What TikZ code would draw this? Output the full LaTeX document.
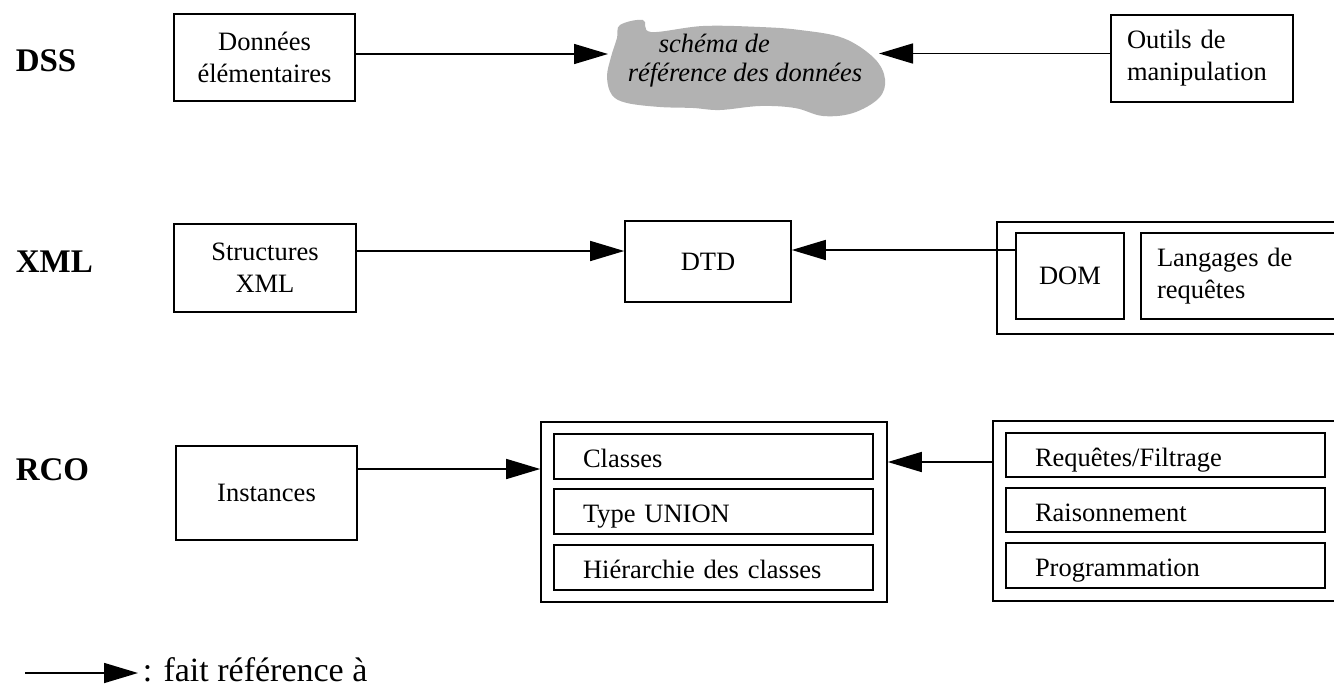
\documentclass[tikz,border=0pt]{standalone}
\usepackage{fontspec}
\setmainfont{Liberation Serif}
\usetikzlibrary{arrows.meta,calc}

\newcommand\bodyfont{\fontsize{26.5}{32}\selectfont}
\newcommand\cloudfont{\fontsize{26.5}{29}\selectfont\itshape}
\newcommand\rowfont{\fontsize{33}{40}\selectfont\bfseries}
\newcommand\legendfont{\fontsize{34}{40}\selectfont}
\definecolor{cloudgray}{gray}{0.70}

\begin{document}
\begin{tikzpicture}[x=1pt,y=-1pt,line width=1.6pt,
  ref/.style={-{Triangle[length=34pt,width=20pt]}},
  box/.style={draw,inner sep=0pt,font=\bodyfont,align=center},
  leftbox/.style={box,align=left,inner xsep=#1},
  item/.style={draw,inner ysep=0pt,inner xsep=29pt,font=\bodyfont,align=left,
    text width=261pt,minimum height=45pt,text height=22pt,text depth=0pt},
  frame/.style={draw,inner sep=0pt},
  rowlabel/.style={font=\rowfont,anchor=base west,inner sep=0pt}]

\useasboundingbox (0,0) rectangle (1334,686);
\clip (0,0) rectangle (1334,686);

% row labels
\node[rowlabel] (dss) at (15,71) {DSS};
\node[rowlabel] (xml) at (15,272) {XML};
\node[rowlabel] (rco) at (15,480) {RCO};

% ---- DSS ----
\node[box,minimum width=181pt,minimum height=87pt] (donnees) at (264.5,57.5)
  {Données\\élémentaires};
\node[leftbox=16pt,text width=150pt,minimum width=182pt,minimum height=87pt]
  (outils) at (1202,58.5) {Outils de\\manipulation};

\fill[cloudgray] plot[smooth cycle,tension=0.6] coordinates {
  (620,25) (643,20) (651,32) (703,26) (760,27) (800,30) (843,38)
  (874,58) (885,79) (879,98) (853,113) (823,116) (795,108) (760,106)
  (720,110) (693,108) (660,107) (627,103) (612,95) (607,77) (611,57) (617,38)};
\node[font=\cloudfont,align=left,inner sep=0pt,anchor=west] (schema) at (627,61)
  {\hspace*{31pt}schéma de\\référence des données};
\coordinate (cloudW) at (608,54);
\coordinate (cloudE) at (879,53.5);

\draw[ref] ([yshift=3.5pt]donnees.east) -- (cloudW);
\draw[ref] ([yshift=5pt]outils.west) -- (cloudE);

% ---- XML ----
\node[box,minimum width=182pt,minimum height=88pt] (struct) at (265,268)
  {Structures\\XML};
\node[box,minimum width=166pt,minimum height=81pt] (dtd) at (708,261.5) {DTD};
\node[frame,minimum width=348pt,minimum height=112pt] (xmltools) at (1171,278) {};
\node[box,minimum width=108pt,minimum height=86pt] (dom) at (1070,276) {DOM};
\node[leftbox=16pt,text width=172pt,minimum width=204pt,minimum height=86pt]
  (lang) at (1243,276) {Langages de\\requêtes};

\draw[ref] ([yshift=17pt]struct.east) -- ([yshift=10.5pt]dtd.west);
\draw[ref] ([yshift=26pt]dom.west) -- ([yshift=11.5pt]dtd.east);

% ---- RCO ----
\node[box,minimum width=181pt,minimum height=94pt] (inst) at (266.5,493) {Instances};

\node[frame,minimum width=346pt,minimum height=180pt] (concepts) at (714,512) {};
\node[item] (classes) at (713.5,456.5) {Classes};
\node[item] (union) at (713.5,511.5) {Type UNION};
\node[item] (hier) at (713.5,567.5) {Hiérarchie des classes};

\node[frame,minimum width=352pt,minimum height=180pt] (services) at (1169,511) {};
\node[item,minimum height=44pt] (requetes) at (1165.5,455) {Requêtes/Filtrage};
\node[item,minimum height=44pt] (raison) at (1165.5,510) {Raisonnement};
\node[item] (prog) at (1165.5,565.5) {Programmation};

\draw[ref] ([yshift=24pt]inst.east) -- ([yshift=43pt]concepts.west);
\draw[ref] ([yshift=49pt]services.west) -- ([yshift=50pt]concepts.east);

% ---- legend ----
\coordinate (legA) at (25,673);
\node[font=\legendfont,anchor=base west,inner sep=0pt] (legT) at (142,681)
  {: fait référence à};
\draw[ref] (legA) -- ($(legA -| legT.west)+(-4,0)$);

\end{tikzpicture}
\end{document}
